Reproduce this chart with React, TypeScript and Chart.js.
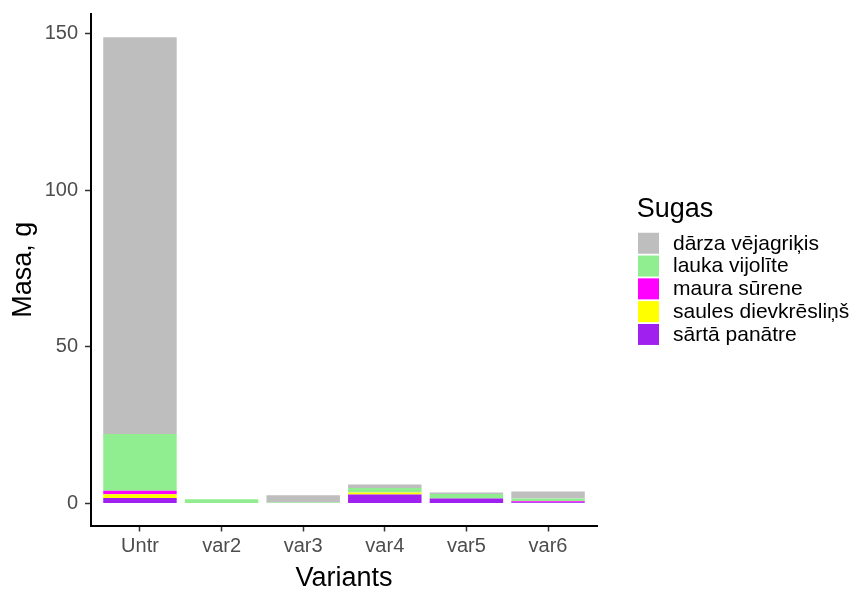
import React, { useEffect, useRef } from 'react';
import { Chart, registerables } from 'chart.js';

Chart.register(...registerables);

const categories = ['Untr', 'var2', 'var3', 'var4', 'var5', 'var6'];
const speciesNames = ['sārtā panātre', 'saules dievkrēsliņš', 'maura sūrene', 'lauka vijolīte', 'dārza vējagriķis'];
const sartaPanatre = [1.8, 0, 0, 2.87, 1.6, 0.38];
const saulesDievkreslins = [1.2, 0, 0, 0.64, 0, 0];
const mauraSurene = [1.05, 0, 0, 0, 0, 0.35];
const laukaVijolite = [18.1, 1.37, 0.3, 1.47, 1.46, 0.87];
const darzaVejagrikis = [126.6, 0, 2.35, 1.08, 0.45, 2.23];
const speciesColors = ['#A020F0', '#FFFF00', '#FF00FF', '#90EE90', '#BEBEBE'];
const yTicks = [0, 50, 100, 150];
const legendTitle = 'Sugas';

const FONT = "'Liberation Sans', Arial, sans-serif";

// Draws the ggplot-style legend (reverse dataset order) to the right of the panel.
const sideLegend = {
  id: 'sideLegend',
  afterDraw(chart: any) {
    const { ctx, chartArea } = chart;
    const left = chartArea.right + 41;
    const mid = (chartArea.top + chartArea.bottom) / 2;
    const box = 21;
    const step = 22.8;
    const firstTop = mid - 37;
    ctx.save();
    ctx.textBaseline = 'middle';
    ctx.textAlign = 'left';
    ctx.fillStyle = '#000000';
    ctx.font = `27px ${FONT}`;
    ctx.fillText(legendTitle, left - 1.3, mid - 60.3);
    ctx.font = `21px ${FONT}`;
    const ds = chart.data.datasets;
    const n = ds.length;
    for (let j = 0; j < n; j++) {
      const d = ds[n - 1 - j];
      const y = firstTop + j * step;
      ctx.fillStyle = d.backgroundColor;
      ctx.fillRect(left, y, box, box);
      ctx.fillStyle = '#000000';
      ctx.fillText(d.label, left + 35, y + box / 2 + 0.5);
    }
    ctx.restore();
  },
};

export default function App() {
  const ref = useRef<HTMLCanvasElement | null>(null);

  useEffect(() => {
    if (!ref.current) return;
    const series = [sartaPanatre, saulesDievkreslins, mauraSurene, laukaVijolite, darzaVejagrikis];
    const datasets = series.map((vals, k) => ({
      label: speciesNames[k],
      data: vals.map((v, i) => ({ x: i, y: v })),
      backgroundColor: speciesColors[k],
      borderColor: speciesColors[k],
      borderWidth: 0,
      barPercentage: 0.9,
      categoryPercentage: 1.0,
    }));

    const chart = new Chart(ref.current, {
      type: 'bar',
      data: { datasets },
      plugins: [sideLegend],
      options: {
        animation: false,
        responsive: false,
        maintainAspectRatio: false,
        devicePixelRatio: 1,
        layout: { padding: { top: 14, left: 0, right: 258, bottom: 0 } },
        plugins: {
          tooltip: { enabled: false },
          legend: { display: false },
        },
        scales: {
          x: {
            type: 'linear',
            stacked: true,
            offset: false,
            min: -0.6,
            max: 5.6,
            afterBuildTicks: (axis: any) => {
              axis.ticks = categories.map((_, i) => ({ value: i }));
            },
            afterFit: (s: any) => {
              s.height = 64.5;
              s.paddingLeft = 0;
              s.paddingRight = 0;
            },
            ticks: {
              callback: (v: any) => categories[v as number] ?? '',
              color: '#4D4D4D',
              font: { family: FONT, size: 20 },
              padding: 3,
              maxRotation: 0,
              autoSkip: false,
            },
            grid: { offset: false, drawOnChartArea: false, drawTicks: true, tickLength: 6, tickColor: '#333333', tickWidth: 1.5 },
            border: { display: true, color: '#000000', width: 2 },
            title: {
              display: true,
              text: 'Variants',
              color: '#000000',
              font: { family: FONT, size: 27, lineHeight: 0.85 },
              padding: { top: 0, bottom: 0 },
            },
          },
          y: {
            stacked: true,
            min: -7.0,
            max: 156.15,
            afterBuildTicks: (axis: any) => {
              axis.ticks = yTicks.map((v) => ({ value: v }));
            },
            afterFit: (s: any) => {
              s.width = 91;
              s.paddingTop = 0;
              s.paddingBottom = 0;
            },
            ticks: {
              color: '#4D4D4D',
              font: { family: FONT, size: 20 },
              padding: 7,
            },
            grid: { drawOnChartArea: false, drawTicks: true, tickLength: 6, tickColor: '#333333', tickWidth: 1.5 },
            border: { display: true, color: '#000000', width: 2 },
            title: {
              display: true,
              text: 'Masa, g',
              color: '#000000',
              font: { family: FONT, size: 27 },
              padding: { top: 7.8, bottom: 0 },
            },
          },
        },
      },
    } as any);

    return () => chart.destroy();
  }, []);

  return (
    <div style={{ position: 'absolute', left: 0, top: 0, width: 855, height: 590, background: '#ffffff' }}>
      <canvas ref={ref} width={855} height={590} style={{ display: 'block', width: 855, height: 590 }} />
    </div>
  );
}
